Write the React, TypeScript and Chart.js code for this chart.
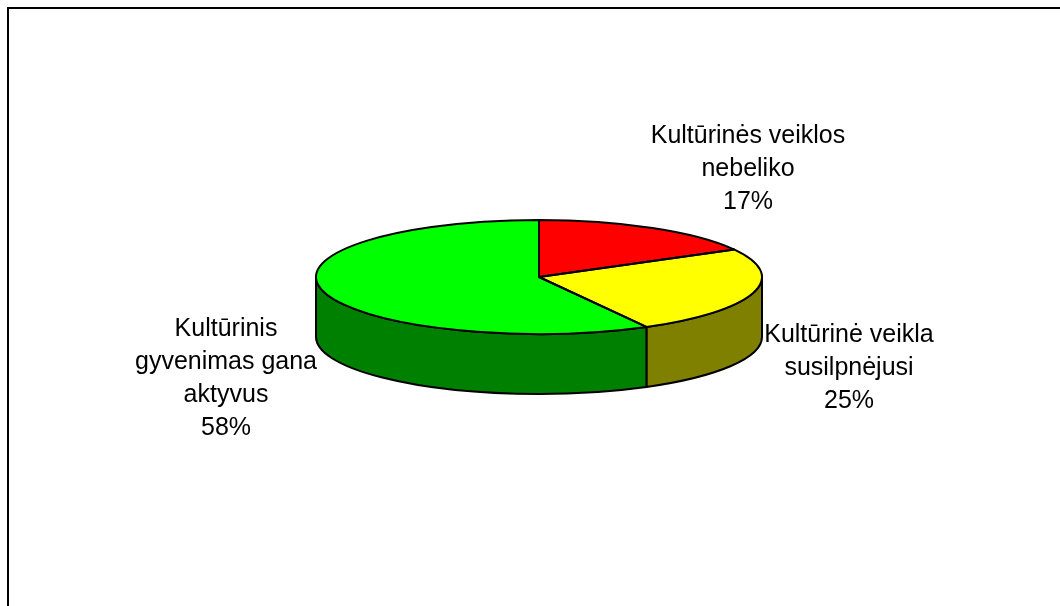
import React, { useEffect, useRef } from "react";
import { Chart, registerables } from "chart.js";

Chart.register(...registerables);

// ---- data ----
const CATEGORY_LINES: string[][] = [
  ["Kultūrinės veiklos", "nebeliko"],
  ["Kultūrinė veikla", "susilpnėjusi"],
  ["Kultūrinis", "gyvenimas gana", "aktyvus"],
];
const VALUES: number[] = [17, 25, 58];

// ---- styles ----
const TOP_COLORS = ["#FF0000", "#FFFF00", "#00FF00"];
const SIDE_COLORS = ["#800000", "#808000", "#008000"];
// label anchors relative to pie centre: [dx, first baseline dy]
const LABEL_OFFSETS: [number, number][] = [
  [209, -134],
  [310, 65],
  [-313, 59],
];
const TILT = 57 / 223;
const DEPTH = 60;
const LINE_H = 33;
const FONT = '25px "Liberation Sans", Arial, sans-serif';

const pie3d = {
  id: "pie3d",
  beforeDraw(chart: any) {
    const ctx = chart.ctx as CanvasRenderingContext2D;
    ctx.save();
    ctx.strokeStyle = "#000";
    ctx.lineWidth = 2;
    ctx.beginPath();
    ctx.moveTo(8, chart.height);
    ctx.lineTo(8, 8);
    ctx.lineTo(chart.width, 8);
    ctx.stroke();
    ctx.restore();
  },
  beforeDatasetsDraw(chart: any) {
    const ctx = chart.ctx as CanvasRenderingContext2D;
    const arcs = chart.getDatasetMeta(0).data as any[];
    if (!arcs.length) return;
    const { x: cx, y: cy, outerRadius: R } = arcs[0].getProps(["x", "y", "outerRadius"], true);
    const ry = R * TILT;
    ctx.save();
    ctx.lineWidth = 2;
    ctx.strokeStyle = "#000";
    ctx.lineJoin = "round";
    arcs.forEach((arc, i) => {
      const { startAngle: s, endAngle: e } = arc.getProps(["startAngle", "endAngle"], true);
      for (const off of [-2 * Math.PI, 0, 2 * Math.PI]) {
        const a1 = Math.max(s, off);
        const a2 = Math.min(e, off + Math.PI);
        if (a2 - a1 > 1e-6) {
          ctx.beginPath();
          ctx.ellipse(cx, cy, R, ry, 0, a1, a2, false);
          ctx.lineTo(cx + R * Math.cos(a2), cy + ry * Math.sin(a2) + DEPTH);
          ctx.ellipse(cx, cy + DEPTH, R, ry, 0, a2, a1, true);
          ctx.closePath();
          ctx.fillStyle = SIDE_COLORS[i];
          ctx.fill();
          ctx.stroke();
        }
      }
    });
    ctx.restore();
    ctx.save();
    ctx.translate(cx, cy);
    ctx.scale(1, TILT);
    ctx.translate(-cx, -cy);
  },
  afterDatasetsDraw(chart: any) {
    const ctx = chart.ctx as CanvasRenderingContext2D;
    const arcs = chart.getDatasetMeta(0).data as any[];
    if (!arcs.length) return;
    ctx.restore();
    const { x: cx, y: cy, outerRadius: R } = arcs[0].getProps(["x", "y", "outerRadius"], true);
    const ry = R * TILT;
    ctx.save();
    ctx.lineWidth = 2;
    ctx.strokeStyle = "#000";
    ctx.lineJoin = "round";
    arcs.forEach((arc) => {
      const { startAngle: s, endAngle: e } = arc.getProps(["startAngle", "endAngle"], true);
      ctx.beginPath();
      ctx.moveTo(cx, cy);
      ctx.ellipse(cx, cy, R, ry, 0, s, e, false);
      ctx.closePath();
      ctx.stroke();
    });
    // labels
    const data = chart.data.datasets[0].data as number[];
    const total = data.reduce((a, b) => a + b, 0);
    ctx.fillStyle = "#000";
    ctx.font = FONT;
    ctx.textAlign = "center";
    ctx.textBaseline = "alphabetic";
    data.forEach((v, i) => {
      const lines = [...CATEGORY_LINES[i], Math.round((v / total) * 100) + "%"];
      const [dx, dy] = LABEL_OFFSETS[i];
      lines.forEach((ln, j) => ctx.fillText(ln, cx + dx, cy + dy + j * LINE_H));
    });
    ctx.restore();
  },
};

export default function App() {
  const ref = useRef<HTMLCanvasElement>(null);
  useEffect(() => {
    if (!ref.current) return;
    const chart = new Chart(ref.current, {
      type: "pie",
      data: {
        labels: CATEGORY_LINES.map((l) => l.join(" ")),
        datasets: [
          {
            data: VALUES,
            backgroundColor: TOP_COLORS,
            borderWidth: 0,
            hoverOffset: 0,
          },
        ],
      },
      options: {
        responsive: false,
        animation: false,
        devicePixelRatio: 1,
        events: [],
        layout: { padding: { left: 316, right: 298, top: 54, bottom: 106 } },
        plugins: {
          legend: { display: false },
          tooltip: { enabled: false },
          title: { display: false },
        },
      },
      plugins: [pie3d],
    });
    return () => chart.destroy();
  }, []);
  return (
    <div style={{ position: "absolute", left: 0, top: 0, width: 1060, height: 606, background: "#fff" }}>
      <canvas ref={ref} width={1060} height={606} style={{ display: "block" }} />
    </div>
  );
}
